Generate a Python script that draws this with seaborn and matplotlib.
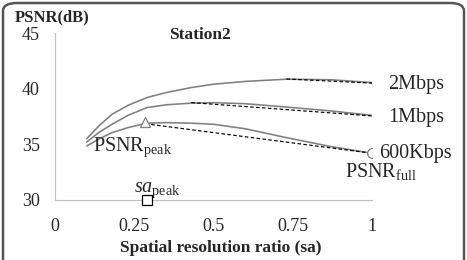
import numpy as np
import pandas as pd
import seaborn as sns
import matplotlib.pyplot as plt
from matplotlib.patches import FancyBboxPatch

# Spatial resolution ratio samples
sa = [0.1, 0.14, 0.18, 0.23, 0.29, 0.35, 0.43, 0.5, 0.6, 0.73, 0.87, 1.0]
psnr_2m = [35.5, 36.7, 37.7, 38.5, 39.2, 39.65, 40.1, 40.4, 40.65, 40.85, 40.8, 40.55]
psnr_1m = [35.2, 36.1, 36.8, 37.6, 38.3, 38.55, 38.7, 38.74, 38.65, 38.35, 38.0, 37.6]
psnr_600k = [34.85, 35.5, 36.05, 36.5, 36.9, 36.95, 36.9, 36.8, 36.4, 35.6, 34.8, 34.2]

# dashed approximations (peak -> full resolution)
dash_2m_x, dash_2m_y = [0.73, 1.0], [40.87, 40.5]
dash_1m_x, dash_1m_y = [0.43, 1.0], [38.75, 37.55]
dash_600k_x, dash_600k_y = [0.285, 1.0], [36.85, 34.2]

rates = ['2Mbps', '1Mbps', '600Kbps']
label_y = [40.4, 37.4, 34.2]

sa_peak = 0.285
psnr_peak = 37.0
psnr_full = 34.2

sns.set_style('white')
plt.rcParams['font.family'] = ['Liberation Serif', 'DejaVu Serif']
plt.rcParams['mathtext.fontset'] = 'custom'
plt.rcParams['mathtext.rm'] = 'Liberation Serif'
plt.rcParams['mathtext.it'] = 'Liberation Serif:italic'

fig = plt.figure(figsize=(4.67, 2.6), dpi=100)
ax = fig.add_axes([55 / 467, 1 - 200 / 260, 317 / 467, 167 / 260])

solid = pd.DataFrame({'sa': sa * 3,
                      'psnr': psnr_2m + psnr_1m + psnr_600k,
                      'rate': [r for r in rates for _ in sa]})
sns.lineplot(data=solid, x='sa', y='psnr', units='rate', estimator=None,
             color='#7f7f7f', lw=1.15, ax=ax)

for dx, dy in [(dash_2m_x, dash_2m_y), (dash_1m_x, dash_1m_y), (dash_600k_x, dash_600k_y)]:
    sns.lineplot(x=dx, y=dy, color='black', lw=0.85, linestyle=(0, (3, 2)), ax=ax)

# markers
ax.plot([sa_peak], [psnr_peak], marker='^', ms=7, mfc='white', mec='#7f7f7f', mew=0.9, ls='none', zorder=5)
ax.plot([1.0], [psnr_full], marker='o', ms=7, mfc='white', mec='#7f7f7f', mew=0.9, ls='none', zorder=5)
ax.plot([0.29], [30], marker='s', ms=7, mfc='white', mec='black', mew=0.9, ls='none', zorder=5, clip_on=False)

# curve labels
fs = 14.5
ax.text(1.05, label_y[0], rates[0], fontsize=fs, va='center', ha='left')
ax.text(1.05, label_y[1], rates[1], fontsize=fs, va='center', ha='left')
ax.text(1.022, label_y[2], rates[2], fontsize=fs, va='center', ha='left')
ax.text(0.12, 34.4, r'PSNR$_{\mathrm{peak}}$', fontsize=fs, va='baseline', ha='left')
ax.text(0.915, 32.05, r'PSNR$_{\mathrm{full}}$', fontsize=fs, va='baseline', ha='left')
ax.text(0.25, 30.7, r'$\mathit{sa}_{\mathrm{peak}}$', fontsize=fs, va='baseline', ha='left')

ax.set_xlim(0, 1)
ax.set_ylim(30, 45)
ax.set_xticks([0, 0.25, 0.5, 0.75, 1])
ax.set_xticklabels(['0', '0.25', '0.5', '0.75', '1'])
ax.set_yticks([30, 35, 40, 45])
ax.tick_params(axis='both', labelsize=13, length=4, color='#bfbfbf', width=0.8, direction='out')
ax.tick_params(axis='x', pad=9)
ax.tick_params(axis='y', pad=7)
for s in ['top', 'right']:
    ax.spines[s].set_visible(False)
for s in ['left', 'bottom']:
    ax.spines[s].set_color('#bfbfbf')
    ax.spines[s].set_linewidth(0.8)

ax.set_xlabel('')
ax.set_ylabel('')
fig.text(221 / 467, 1 - 248 / 260, 'Spatial resolution ratio (sa)', fontsize=12.5,
         fontweight='bold', ha='center', va='center')
fig.text(15 / 467, 1 - 17 / 260, 'PSNR(dB)', fontsize=12, fontweight='bold', ha='left', va='center')
fig.text(200 / 467, 1 - 35 / 260, 'Station2', fontsize=12.5, fontweight='bold', ha='center', va='center')

# rounded frame around the figure
frame = FancyBboxPatch((3 / 467, -0.1), 461 / 467, 1.1 - 3 / 260,
                       boxstyle='round,pad=0,rounding_size=0.03',
                       transform=fig.transFigure, fill=False, ec='#555555', lw=1.8,
                       clip_on=False)
fig.patches.append(frame)

fig.savefig('out.png', dpi=100)
